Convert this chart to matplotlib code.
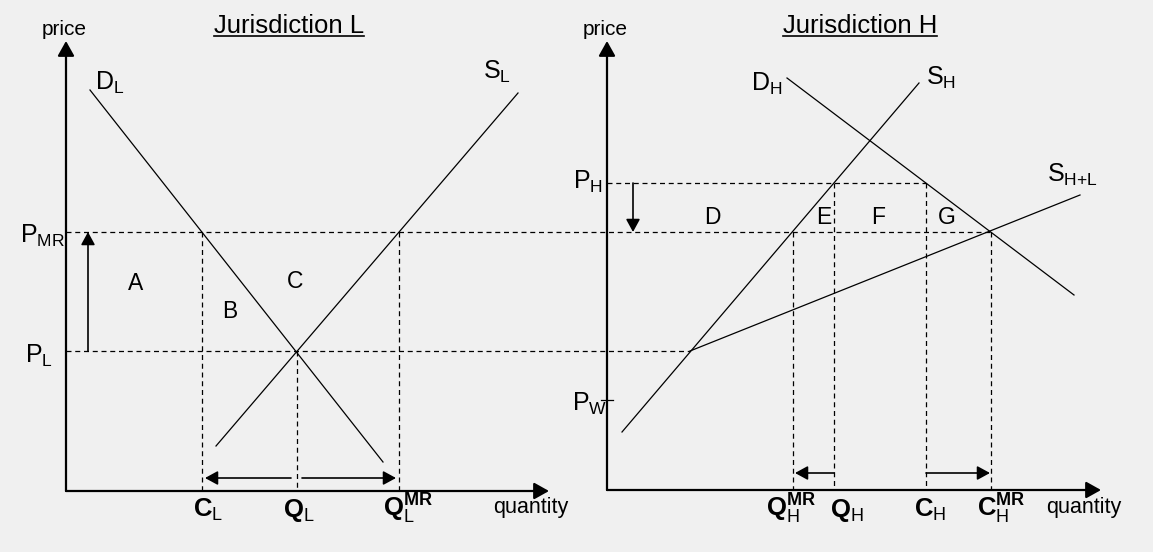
import matplotlib.pyplot as plt

plt.rcParams['font.family'] = ['Liberation Sans', 'DejaVu Sans']
plt.rcParams['mathtext.fontset'] = 'custom'
plt.rcParams['mathtext.rm'] = 'Liberation Sans'
plt.rcParams['mathtext.it'] = 'Liberation Sans:italic'
plt.rcParams['mathtext.bf'] = 'Liberation Sans:bold'

# sketch coordinates, pixels, y grows downwards
# price levels
p_mr, p_l, p_h, p_w = 232, 351, 183, 400
# quantities in Jurisdiction L
c_l, q_l, q_l_mr = 202, 297, 399
# quantities in Jurisdiction H
q_h_mr, q_h, c_h, c_h_mr = 793, 834, 926, 991

# axes: origins and arrow tips
origin_l = (66, 491)
origin_h = (607, 490)
x_tip_l, x_tip_h, y_tip = 549, 1101, 41

# curves as (x pair, y pair)
d_l = ([90, 383], [90, 462])
s_l = ([216, 518], [446, 93])
d_h = ([787, 1074], [78, 295])
s_h = ([622, 919], [432, 83])
s_hl = ([690, 1080], [351, 195])

curve_text = [r'$\mathrm{D}_{\mathrm{L}}$', r'$\mathrm{S}_{\mathrm{L}}$', r'$\mathrm{D}_{\mathrm{H}}$',
              r'$\mathrm{S}_{\mathrm{H}}$', r'$\mathrm{S}_{\mathrm{H{+}L}}$']
curve_x = [95, 483, 751, 926, 1047]
curve_y = [90, 79, 91, 85, 182]

price_text = [r'$\mathrm{P}_{\mathrm{MR}}$', r'$\mathrm{P}_{\mathrm{L}}$', r'$\mathrm{P}_{\mathrm{H}}$',
              r'$\mathrm{P}_{\mathrm{W}}$']
price_x = [20, 25, 573, 572]
price_y = [243, 363, 189, 411]

area_text = ['A', 'B', 'C', 'D', 'E', 'F', 'G']
area_x = [136, 230, 295, 712, 824, 878, 947]
area_y = [290, 318, 288, 224, 224, 224, 224]

tick_text = [r'$\mathbf{C}_{\mathrm{L}}$', r'$\mathbf{Q}_{\mathrm{L}}$', r'$\mathbf{Q}_{\mathrm{L}}^{\mathbf{MR}}$',
             r'$\mathbf{Q}_{\mathrm{H}}^{\mathbf{MR}}$', r'$\mathbf{Q}_{\mathrm{H}}$', r'$\mathbf{C}_{\mathrm{H}}$',
             r'$\mathbf{C}_{\mathrm{H}}^{\mathbf{MR}}$']
tick_x = [193, 283, 383, 766, 830, 914, 977]
tick_y = 517

titles = ['Jurisdiction L', 'Jurisdiction H']
title_x = [289, 860]

fig = plt.figure(figsize=(11.53, 5.52), dpi=100, facecolor='#f0f0f0')
ax = fig.add_axes([0, 0, 1, 1])
ax.set_xlim(0, 1153)
ax.set_ylim(552, 0)
ax.axis('off')

dash = dict(color='black', lw=0.9, linestyle=(0, (4, 3)))
thin = dict(color='black', lw=0.9)


def arrow(x0, y0, x1, y1, lw=1.2, hl=0.55, hw=0.3, ms=14):
    ax.annotate('', xy=(x1, y1), xytext=(x0, y0),
                arrowprops=dict(arrowstyle=f'-|>,head_length={hl},head_width={hw}',
                                color='black', lw=lw, mutation_scale=ms,
                                shrinkA=0, shrinkB=0))


# axes with arrows
for (ox, oy), xt in [(origin_l, x_tip_l), (origin_h, x_tip_h)]:
    arrow(ox, oy, ox, y_tip, lw=1.6, hl=0.5, hw=0.28, ms=18)
    arrow(ox, oy, xt, oy, lw=1.6, hl=0.5, hw=0.28, ms=18)
    ax.text(ox - 2, 35, 'price', fontsize=15, ha='center', va='baseline')

ax.text(531, 513, 'quantity', fontsize=15.5, ha='center', va='baseline')
ax.text(1084, 513, 'quantity', fontsize=15.5, ha='center', va='baseline')

# titles with underline
for t, tx in zip(titles, title_x):
    ax.text(tx, 33, t, fontsize=18.5, ha='center', va='baseline')
ax.plot([214, 364], [36, 36], color='black', lw=1.2)
ax.plot([783, 937], [36, 36], color='black', lw=1.2)

# dashed guides
ax.plot([origin_l[0], c_h_mr], [p_mr, p_mr], **dash)
ax.plot([origin_l[0], s_hl[0][0]], [p_l, p_l], **dash)
ax.plot([origin_h[0], c_h], [p_h, p_h], **dash)
for x, y in [(c_l, p_mr), (q_l, p_l), (q_l_mr, p_mr)]:
    ax.plot([x, x], [y, origin_l[1]], **dash)
for x, y in [(q_h_mr, p_mr), (q_h, p_h), (c_h, p_h), (c_h_mr, p_mr)]:
    ax.plot([x, x], [y, origin_h[1]], **dash)

# supply and demand curves
for xs, ys in [d_l, s_l, d_h, s_h, s_hl]:
    ax.plot(xs, ys, **thin)

# world price tick
ax.plot([601, 613], [p_w, p_w], color='black', lw=0.9)

# price change arrows
arrow(88, p_l, 88, p_mr)
arrow(633, p_h, 633, p_mr)

# quantity change arrows
arrow(291, 478, c_l + 3, 478)
arrow(302, 478, q_l_mr - 3, 478)
arrow(q_h, 473, q_h_mr + 2, 473)
arrow(c_h, 473, c_h_mr - 1, 473)

for t, x, y in zip(curve_text, curve_x, curve_y):
    ax.text(x, y, t, fontsize=18, ha='left', va='baseline')
for t, x, y in zip(price_text, price_x, price_y):
    ax.text(x, y, t, fontsize=18, ha='left', va='baseline')
for t, x, y in zip(area_text, area_x, area_y):
    ax.text(x, y, t, fontsize=16.5, ha='center', va='baseline')
for t, x in zip(tick_text, tick_x):
    ax.text(x, tick_y, t, fontsize=18.5, ha='left', va='baseline')

fig.savefig('out.png', dpi=100, facecolor=fig.get_facecolor())
